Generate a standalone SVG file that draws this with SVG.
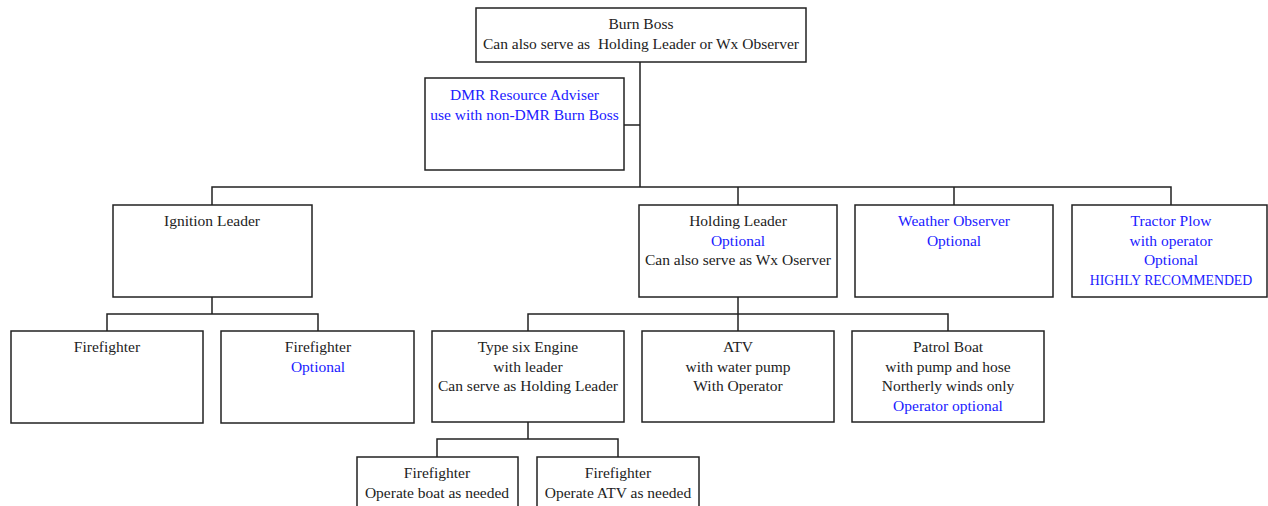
<svg xmlns="http://www.w3.org/2000/svg" width="1268" height="506" viewBox="0 0 1268 506">
<style>
rect.n{fill:#fff;stroke:#222;stroke-width:1.5}
text{font-family:"Liberation Serif","Times New Roman",serif;font-size:15.5px;fill:#222;text-anchor:middle}
.b{fill:#2020ff}
.caps{font-size:13.8px}
#connectors path{fill:none;stroke:#222;stroke-width:1.5}
</style>
<rect width="1268" height="506" fill="#fff"/>
<g id="connectors">
<path d="M640 62V187M624 125H640"/>
<path d="M212 205V187H1171V205M738 187V205M954 187V205"/>
<path d="M212 297V314M107 331V314H318V331"/>
<path d="M738 297V314M528 331V314H948V331M738 314V331"/>
<path d="M528 422V439M437 457V439H618V457"/>
</g>
<g id="burn-boss"><rect class="n" x="476" y="8" width="330" height="54"/>
<text x="641" y="29">Burn Boss</text><text x="641" y="49" xml:space="preserve">Can also serve as  Holding Leader or Wx Observer</text></g>
<g id="dmr"><rect class="n" x="425" y="78" width="199" height="92"/>
<text class="b" x="524.5" y="100">DMR Resource Adviser</text><text class="b" x="524.5" y="120">use with non-DMR Burn Boss</text></g>
<g id="ignition-leader"><rect class="n" x="113" y="205" width="199" height="92"/>
<text x="212" y="226">Ignition Leader</text></g>
<g id="holding-leader"><rect class="n" x="639" y="205" width="198" height="92"/>
<text x="738" y="226">Holding Leader</text><text class="b" x="738" y="246">Optional</text><text x="738" y="265">Can also serve as Wx Oserver</text></g>
<g id="weather-observer"><rect class="n" x="855" y="205" width="198" height="92"/>
<text class="b" x="954" y="226">Weather Observer</text><text class="b" x="954" y="246">Optional</text></g>
<g id="tractor-plow"><rect class="n" x="1072" y="205" width="195" height="92"/>
<text class="b" x="1171" y="226">Tractor Plow</text><text class="b" x="1171" y="246">with operator</text><text class="b" x="1171" y="265">Optional</text><text class="b caps" x="1171" y="285">HIGHLY RECOMMENDED</text></g>
<g id="firefighter-1"><rect class="n" x="11" y="331" width="192" height="92"/>
<text x="107" y="352">Firefighter</text></g>
<g id="firefighter-2"><rect class="n" x="221" y="331" width="193" height="92"/>
<text x="318" y="352">Firefighter</text><text class="b" x="318" y="372">Optional</text></g>
<g id="type-six-engine"><rect class="n" x="432" y="331" width="192" height="91"/>
<text x="528" y="352">Type six Engine</text><text x="528" y="372">with leader</text><text x="528" y="391">Can serve as Holding Leader</text></g>
<g id="atv"><rect class="n" x="642" y="331" width="192" height="91"/>
<text x="738" y="352">ATV</text><text x="738" y="372">with water pump</text><text x="738" y="391">With Operator</text></g>
<g id="patrol-boat"><rect class="n" x="852" y="331" width="192" height="91"/>
<text x="948" y="352">Patrol Boat</text><text x="948" y="372">with pump and hose</text><text x="948" y="391">Northerly winds only</text><text class="b" x="948" y="411">Operator optional</text></g>
<g id="firefighter-boat"><rect class="n" x="357" y="457" width="161" height="60"/>
<text x="437" y="478">Firefighter</text><text x="437" y="498">Operate boat as needed</text></g>
<g id="firefighter-atv"><rect class="n" x="537" y="457" width="162" height="60"/>
<text x="618" y="478">Firefighter</text><text x="618" y="498">Operate ATV as needed</text></g>
</svg>
